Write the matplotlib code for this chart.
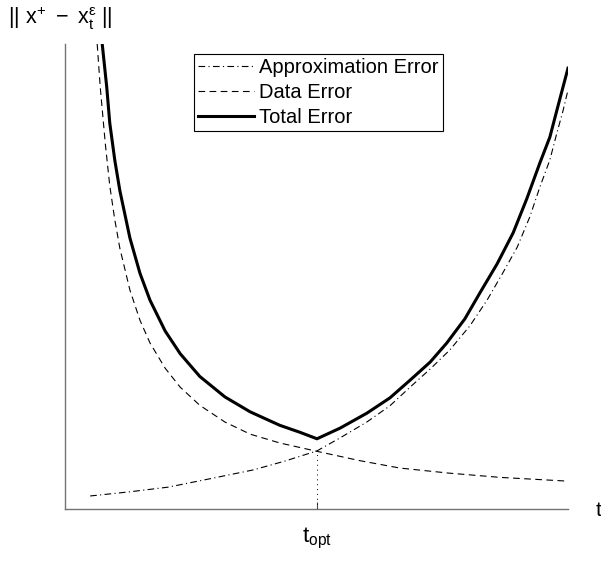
import matplotlib
matplotlib.use("Agg")
import matplotlib.pyplot as plt

plt.rcParams['font.family'] = ['Liberation Sans', 'DejaVu Sans']
plt.rcParams['mathtext.fontset'] = 'custom'
plt.rcParams['mathtext.rm'] = 'Liberation Sans'
plt.rcParams['mathtext.it'] = 'Liberation Sans'
plt.rcParams['mathtext.sf'] = 'Liberation Sans'

# values (t and error in arbitrary units, 0..10)
t_approx = [0.50, 1.29, 2.05, 2.88, 3.74, 4.37, 5.01, 5.47, 6.00, 6.46, 6.86, 7.26, 7.65, 8.05,
            8.39, 8.69, 8.99, 9.24, 9.44, 9.64, 9.78, 9.90, 10.0]
e_approx = [0.28, 0.37, 0.47, 0.65, 0.84, 1.03, 1.25, 1.53, 1.87, 2.22, 2.62, 3.01, 3.42, 3.94,
            4.49, 5.05, 5.63, 6.28, 6.92, 7.51, 8.09, 8.56, 9.01]

t_data = [0.64, 0.70, 0.80, 0.89, 0.99, 1.09, 1.29, 1.49, 1.69, 1.99, 2.29, 2.68, 3.18, 3.68,
          4.27, 5.01, 5.86, 6.66, 7.65, 8.65, 9.98]
e_data = [10.0, 9.08, 7.87, 6.95, 6.22, 5.61, 4.71, 4.06, 3.57, 3.03, 2.62, 2.23, 1.87, 1.61,
          1.42, 1.24, 1.04, 0.88, 0.77, 0.68, 0.60]

t_total = [0.74, 0.83, 0.89, 0.99, 1.09, 1.29, 1.49, 1.69, 1.99, 2.29, 2.68, 3.18, 3.68, 4.27,
           4.67, 5.01, 5.47, 6.00, 6.46, 6.86, 7.26, 7.59, 7.95, 8.25, 8.59, 8.91, 9.18, 9.44,
           9.64, 9.78, 10.0]
e_total = [10.0, 9.07, 8.30, 7.50, 6.85, 5.83, 5.07, 4.49, 3.83, 3.34, 2.85, 2.41, 2.09, 1.80,
           1.65, 1.51, 1.74, 2.06, 2.39, 2.77, 3.16, 3.57, 4.09, 4.65, 5.27, 5.94, 6.67, 7.44,
           8.00, 8.58, 9.48]

t_opt = 5.01
e_cross = 1.24

fig = plt.figure(figsize=(6.01, 5.61), dpi=100)
ax = fig.add_axes([65 / 601, 1 - 509 / 561, 503 / 601, 465 / 561])

ax.plot(t_approx, e_approx, color='black', lw=0.8, dashes=(6, 3, 1, 3), label='Approximation Error')
ax.plot(t_data, e_data, color='black', lw=0.8, dashes=(6, 4), label='Data Error')
ax.plot(t_total, e_total, color='black', lw=2.2, label='Total Error')
ax.plot([t_opt, t_opt], [0, e_cross], color='black', lw=0.7, ls=(0, (1, 4)))

ax.set_xlim(0, 10)
ax.set_ylim(0, 10)
for s in ['top', 'right']:
    ax.spines[s].set_visible(False)
for s in ['left', 'bottom']:
    ax.spines[s].set_color('0.45')
    ax.spines[s].set_linewidth(1.0)

ax.set_yticks([])
ax.set_xticks([t_opt])
ax.set_xticklabels([r'$\mathrm{t}_{\mathrm{opt}}$'], fontsize=16)
ax.tick_params(axis='x', direction='in', length=5, color='0.3', pad=12)

fig.text(8 / 601, 1 - 18 / 561, r'$||\ \mathrm{x}^{+}\ -\ \mathrm{x}_{\mathrm{t}}^{\epsilon}\ ||$',
         fontsize=15.5, va='center', ha='left')
fig.text(596 / 601, 1 - 510 / 561, 't', fontsize=15, va='center', ha='left')

leg = ax.legend(loc='upper left', bbox_to_anchor=((194 - 65) / 503, (509 - 54) / 465),
                borderaxespad=0, fancybox=False, edgecolor='black', framealpha=1,
                fontsize=14.5, handlelength=2.8, handletextpad=0.25, labelspacing=0.3,
                borderpad=0.2)
leg.get_frame().set_linewidth(0.8)

fig.savefig('out.png', dpi=100)
